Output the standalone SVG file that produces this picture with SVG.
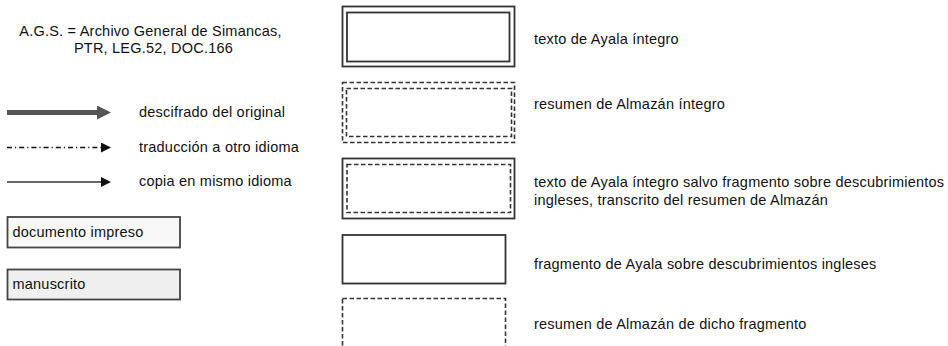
<svg xmlns="http://www.w3.org/2000/svg" width="948" height="346" viewBox="0 0 948 346">
<style>
text{font-family:"Liberation Sans",Arial,sans-serif;font-size:14.5px;fill:#111;letter-spacing:0.22px}
.box{fill:none;stroke:#333;stroke-width:1.8}
.dash{fill:none;stroke:#333;stroke-width:1.6;stroke-dasharray:4.5 2.5}
.leg{stroke:#444;stroke-width:1.8}
</style>
<defs>
<marker id="hThick" markerWidth="14" markerHeight="14" refX="0" refY="7" orient="auto" markerUnits="userSpaceOnUse">
<path d="M0,0 L14,7 L0,14 Z" fill="#555"/>
</marker>
<marker id="hThin" markerWidth="10" markerHeight="10" refX="0" refY="5" orient="auto" markerUnits="userSpaceOnUse">
<path d="M0,0 L10,5 L0,10 Z" fill="#111"/>
</marker>
</defs>
<rect width="948" height="346" fill="#fff"/>
<g id="ags-note">
<text x="150.5" y="35.7" text-anchor="middle">A.G.S. = Archivo General de Simancas,</text>
<text x="153.5" y="53.3" text-anchor="middle">PTR, LEG.52, DOC.166</text>
</g>
<g id="connectors">
<line x1="7" y1="112.5" x2="97" y2="112.5" stroke="#555" stroke-width="5" marker-end="url(#hThick)"/>
<line x1="7" y1="147.5" x2="101" y2="147.5" stroke="#111" stroke-width="1.3" stroke-dasharray="5 3 1.2 3" marker-end="url(#hThin)"/>
<line x1="7" y1="182" x2="101" y2="182" stroke="#333" stroke-width="1.5" marker-end="url(#hThin)"/>
</g>
<g id="legend-labels">
<text x="139" y="117">descifrado del original</text>
<text x="139" y="151.5">traducción a otro idioma</text>
<text x="139" y="186">copia en mismo idioma</text>
</g>
<g id="legend-impreso">
<rect class="leg" x="7.5" y="217" width="172.5" height="30.5" fill="#f8f8f8"/>
<text x="12.5" y="237.3">documento impreso</text>
</g>
<g id="legend-manuscrito">
<rect class="leg" x="7.5" y="269.5" width="172.5" height="30" fill="#efefef"/>
<text x="12.5" y="289.3">manuscrito</text>
</g>
<g id="node-ayala-integro">
<rect class="box" x="342.5" y="6.5" width="172" height="60"/>
<rect class="box" x="347" y="12.5" width="162.5" height="49"/>
<text x="534" y="44">texto de Ayala íntegro</text>
</g>
<g id="node-almazan-integro">
<rect class="dash" x="342.5" y="82.5" width="172" height="60"/>
<rect class="dash" x="346.5" y="88.5" width="165" height="48"/>
<text x="534" y="109">resumen de Almazán íntegro</text>
</g>
<g id="node-ayala-salvo">
<rect class="box" x="342.5" y="158.5" width="172" height="60"/>
<rect class="dash" x="347" y="164.5" width="163.5" height="48"/>
<text x="534" y="187">texto de Ayala íntegro salvo fragmento sobre descubrimientos</text>
<text x="534" y="205">ingleses, transcrito del resumen de Almazán</text>
</g>
<g id="node-fragmento-ayala">
<rect class="box" x="342.5" y="235" width="163" height="48.5"/>
<text x="534" y="268.5">fragmento de Ayala sobre descubrimientos ingleses</text>
</g>
<g id="node-fragmento-almazan">
<rect class="dash" x="342.5" y="298.5" width="163" height="60"/>
<text x="534" y="329">resumen de Almazán de dicho fragmento</text>
</g>
</svg>
